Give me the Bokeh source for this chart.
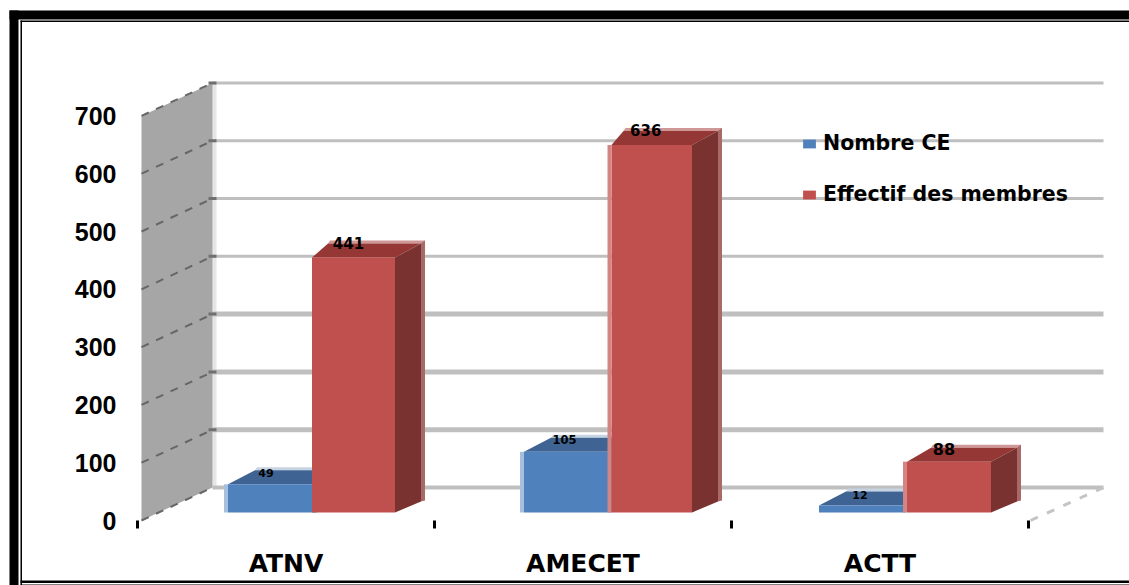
from bokeh.plotting import figure
from bokeh.embed import file_html
from bokeh.resources import INLINE
from bokeh.core.properties import value
from bokeh.models import (Range1d, LinearAxis, FixedTicker, Legend, LegendItem, ColumnDataSource)

# ---- data -----------------------------------------------------------------
categories = ["ATNV", "AMECET", "ACTT"]
nombre_ce = [49, 105, 12]
effectif = [441, 636, 88]
y_ticks = [0, 100, 200, 300, 400, 500, 600, 700]
series_names = ["Nombre CE", "Effectif des membres"]

# ---- layout (figure pixels) -------------------------------------------------
W, H = 1129, 585
PX_PER_UNIT = 0.578
BASE_Y = 512       # bars' floor line
WALL_FRONT_Y = 520
WALL_BACK_Y = 487
CAT_W = 297.0
X0 = 137.0


def xu(px):
    return (px - X0) / CAT_W


def yu(py):
    return (BASE_Y - py) / PX_PER_UNIT


S_FRONT = yu(WALL_FRONT_Y)
S_BACK = yu(WALL_BACK_Y)
DEPTH = 14 / PX_PER_UNIT

p = figure(width=W, height=H, output_backend="svg", toolbar_location=None,
           x_range=Range1d(xu(0), xu(W)), y_range=Range1d(yu(H), yu(0)),
           min_border=0, outline_line_color=None, background_fill_color="white",
           x_axis_location=None, y_axis_location=None)
p.grid.visible = False
p.extra_y_ranges["wall"] = Range1d(p.y_range.start - S_FRONT, p.y_range.end - S_FRONT)

# ---- page frame ------------------------------------------------------------
frame = [(9, 18, 10, 585), (9, 1129, 10, 19), (20, 21.5, 20, 585), (20, 1129, 20, 21.5),
         (20, 1129, 580, 582.5), (20, 1129, 584, 585)]
p.quad(left=[xu(f[0]) for f in frame], right=[xu(f[1]) for f in frame],
       top=[yu(f[2]) for f in frame], bottom=[yu(f[3]) for f in frame],
       fill_color="black", line_color=None)

# ---- back wall, gridlines, side wall ---------------------------------------
xb, xf, xr = xu(212), xu(141), xu(1103)
p.quad(left=[xb], right=[xu(216)], top=[700 + S_BACK], bottom=[S_BACK],
       fill_color="#E6E6E6", line_color=None)
grid_w = [4, 5, 5, 5, 3, 3, 3, 3]
for t, lw in zip(y_ticks, grid_w):
    p.segment(x0=[xb], x1=[xr], y0=[t + S_BACK], y1=[t + S_BACK], line_color="#BFBFBF", line_width=lw)
p.patch(x=[xf, xb, xb, xf], y=[S_FRONT, S_BACK, 700 + S_BACK, 700 + S_FRONT], fill_color="#A6A6A6", line_color=None)
p.segment(x0=[xf] * 8, x1=[xb] * 8, y0=[t + S_FRONT for t in y_ticks], y1=[t + S_BACK for t in y_ticks],
          line_color="#666666", line_width=2, line_dash="8 8")
p.segment(x0=[xu(208)] * 7, x1=[xu(216)] * 7, y0=[t + S_BACK for t in y_ticks[1:]], y1=[t + S_BACK for t in y_ticks[1:]],
          line_color="#707070", line_width=3)
p.segment(x0=[xu(1030)], x1=[xu(1103)], y0=[S_FRONT], y1=[S_BACK], line_color="#C4C4C4", line_width=3, line_dash="8 10")


# ---- 3D bars ---------------------------------------------------------------
def bars(vals, lefts, rights, skew, strip, c_front, c_top, c_edge, c_side, c_side_edge):
    xs_l = [xu(v) for v in lefts]
    xs_r = [xu(v) for v in rights]
    dep = [26 / CAT_W] * 3
    edge = 3 / PX_PER_UNIT
    p.patches(xs=[[l + s / CAT_W + 2 / CAT_W, r + d + 4 / CAT_W, r + d + 4 / CAT_W, l + s / CAT_W] for l, r, d, s in zip(xs_l, xs_r, dep, skew)],
              ys=[[v + DEPTH + edge, v + DEPTH + edge, v + DEPTH, v + DEPTH] for v in vals],
              fill_color=c_edge, line_color=None)
    p.patches(xs=[[r + d, r + d + 4 / CAT_W, r + d + 4 / CAT_W, r + d] for r, d in zip(xs_r, dep)],
              ys=[[yu(501), yu(500), v + DEPTH + edge, v + DEPTH] for v in vals],
              fill_color=c_side_edge, line_color=None)
    p.patches(xs=[[l, r, r + d, l + s / CAT_W] for l, r, d, s in zip(xs_l, xs_r, dep, skew)],
              ys=[[v, v, v + DEPTH, v + DEPTH] for v in vals], fill_color=c_top, line_color=None)
    p.patches(xs=[[r, r + d, r + d, r] for r, d in zip(xs_r, dep)],
              ys=[[0, yu(501), v + DEPTH, v] for v in vals], fill_color=c_side, line_color=None)
    front = p.quad(left=xs_l, right=xs_r, top=vals, bottom=[0] * 3, fill_color=c_front, line_color=None)
    for l, v, c in zip(xs_l, vals, strip):
        if c:
            p.quad(left=[l - 4 / CAT_W], right=[l], top=[v], bottom=[0], fill_color=c, line_color=None)
    return front


centers = [xu(X0) + i + 0.5 for i in range(3)]
cpx = [X0 + (i + 0.5) * CAT_W for i in range(3)]
blue_l = [cpx[0] - 58, cpx[1] - 59, cpx[2] - 61]
blue_r = [cpx[0] + 30, cpx[1] + 28, cpx[2] + 25]
red_l = [cpx[0] + 26, cpx[1] + 28.5, cpx[2] + 27]
red_r = [cpx[0] + 109, cpx[1] + 109, cpx[2] + 111]

blue = bars(nombre_ce, blue_l, blue_r, [27, 27, 27], ["#A7BFDD", "#A7BFDD", None],
            "#4F81BD", "#3F6392", "#C6D3E2", "#3F6392", "#8FA8C8")
red = bars(effectif, red_l, red_r, [16, 12, 24], [None, "#D48583", "#D48583"],
           "#C0504D", "#953735", "#CF9897", "#7A3230", "#A86A68")

# ---- value labels ----------------------------------------------------------
lab_dx = [-6, -3, -2, -5, -6, -5]
lab_x = [xu((a + b) / 2 + d) for a, b, d in zip(blue_l + red_l, blue_r + red_r, lab_dx)]
lab_y = nombre_ce + effectif
lab_txt = [str(v) for v in lab_y]
lab_size = ["11px", "11.5px", "11px", "15px", "15px", "16px"]
lab_off = [-11, -12, -11, -15, -15, -13]
src = ColumnDataSource(dict(x=lab_x, y=lab_y, t=lab_txt, s=lab_size, o=lab_off))
p.text(x="x", y="y", text="t", y_offset="o", text_font_size="s", source=src, text_color="black",
       text_font=value("DejaVu Sans"), text_font_style="bold", text_align="center", text_baseline="middle")

# ---- axes ------------------------------------------------------------------
ya = LinearAxis(y_range_name="wall", fixed_location=xf, ticker=FixedTicker(ticks=y_ticks),
                axis_line_color=None, major_tick_line_color=None, minor_tick_line_color=None,
                major_tick_in=0, major_tick_out=0, major_label_standoff=25,
                major_label_text_font="Liberation Sans", major_label_text_font_style="bold",
                major_label_text_font_size="25px", major_label_text_color="black")
p.add_layout(ya, "left")

xa = LinearAxis(fixed_location=S_FRONT, ticker=FixedTicker(ticks=centers, minor_ticks=[0, 1, 2, 3]),
                major_label_overrides={c: n for c, n in zip(centers, categories)},
                axis_line_color=None, major_tick_line_color=None, major_tick_in=0, major_tick_out=0,
                minor_tick_line_color="black", minor_tick_line_width=3, minor_tick_in=0, minor_tick_out=8,
                major_label_standoff=20, major_label_text_font="DejaVu Sans", major_label_text_font_style="bold",
                major_label_text_font_size="25px", major_label_text_color="black")
p.add_layout(xa, "below")

# ---- legend ----------------------------------------------------------------
legend = Legend(items=[LegendItem(label=series_names[0], renderers=[blue]),
                       LegendItem(label=series_names[1], renderers=[red])],
                location=(801, H - 206), orientation="vertical", background_fill_alpha=0, border_line_color=None,
                glyph_width=16, glyph_height=11, label_text_font="DejaVu Sans", label_text_font_style="bold",
                label_text_font_size="20.5px", label_text_color="black", spacing=27, padding=0, margin=0,
                label_standoff=6)
p.add_layout(legend, "center")

open("out.html", "w").write(file_html(p, INLINE))
